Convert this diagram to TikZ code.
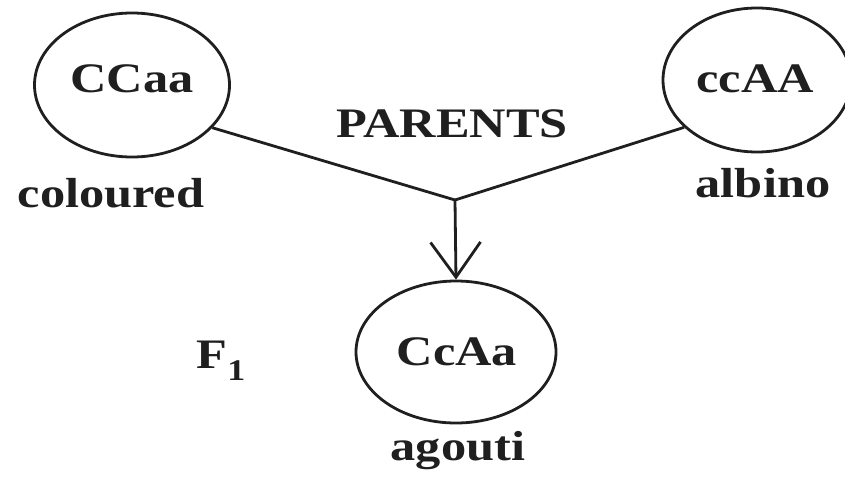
\documentclass[tikz,border=0pt]{standalone}
\usepackage{fontspec}
\setmainfont{Liberation Serif}
\usetikzlibrary{arrows.meta,shapes.geometric}
\newcommand\widetext[1]{\scalebox{1.2}[1]{#1}}
\tikzset{
  genotype/.style={draw=black!88, ellipse, line width=2.8pt, inner sep=0pt},
  lab/.style={inner sep=0pt, anchor=base, text=black!88, font=\fontsize{42}{50}\selectfont\bfseries},
  link/.style={draw=black!88, line width=2.8pt},
}
\begin{document}
\begin{tikzpicture}[x=1pt, y=-1pt]
  \useasboundingbox (0,0) rectangle (845,477);

  % parent and offspring genotypes
  \node[genotype, minimum width=195pt, minimum height=144pt] (L) at (132,85) {};
  \node[genotype, minimum width=188pt, minimum height=144pt] (R) at (757,80) {};
  \node[genotype, minimum width=200pt, minimum height=142pt] (B) at (456,352) {};

  \node[lab] (Lt) at (132,92) {\widetext{CCaa}};
  \node[lab] (Rt) at (755,92) {\widetext{ccAA}};
  \node[lab] (Bt) at (457,365) {\widetext{CcAa}};

  % phenotype labels
  \node[lab] (Lp) at (111,207) {\widetext{coloured}};
  \node[lab] (Rp) at (763,197) {\widetext{albino}};
  \node[lab] (Bp) at (458,460) {\widetext{agouti}};

  \node[lab] (par) at (452,137) {\widetext{PARENTS}};
  \node[lab] (f1) at (221,368) {\widetext{F\raisebox{-12pt}{\fontsize{30}{30}\selectfont 1}}};

  % cross
  \coordinate (J) at (455,200);
  \draw[link] (L.-28) -- (J);
  \draw[link] (R.213) -- (J);
  \draw[link, -{Straight Barb[length=35pt, width=50pt]}] (J) -- (B.north);
\end{tikzpicture}
\end{document}
